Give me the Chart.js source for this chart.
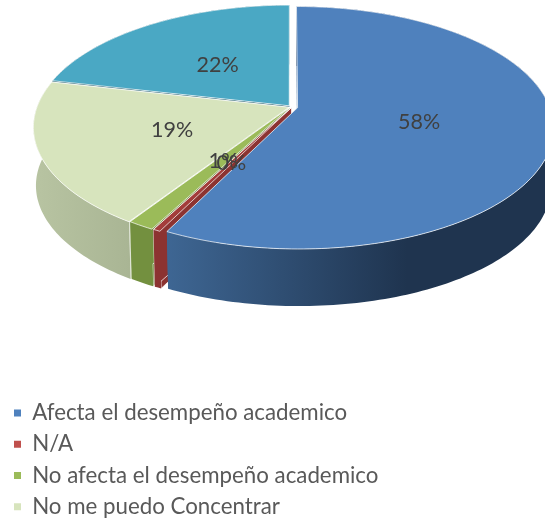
<!DOCTYPE html>
<html><head><meta charset="utf-8">
<script src="https://cdn.jsdelivr.net/npm/chart.js@4"></script>
<style>html,body{margin:0;padding:0;background:#fff}canvas{display:block}</style>
</head><body><canvas id="c" width="545" height="520"></canvas>
<script>
const categories = ['Afecta el desempeño academico','N/A','No afecta el desempeño academico','No me puedo Concentrar',''];
const values = [57.5, 0.4, 1.45, 19.4, 21.5];
const colors = ['#4F81BD','#C0504D','#9BBB59','#D7E4BD','#4BACC6'];
const topColors = ['#4F81BD','#A33C3A','#9BBB59','#D7E4BD','#4AA8C4'];
const wallLeft = ['#3E6693','#8C3331','#73903F','#B8C4A2','#1F5B6C'];
const wallRight = ['#1F344F','#8C3331','#73903F','#A9B594','#1F5B6C'];
const explode = [[0.03,0.006],[0.006,0.004],[0,0.002],[-0.004,0.002],[-0.003,-0.01]];
const paintOrder = [4,3,2,1,0];

const view = {cx:290, cy:107, a:252, b:117.7, k:0.165, depth:58.5, shrink:0.99, labelR:0.485};
function project(th, r, off, level){
  const u = off[0] + r*Math.sin(th), n = off[1] - r*Math.cos(th), w = 1 - view.k*n;
  const f = level ? view.shrink : 1;
  return [view.cx + view.a*f*u/w, view.cy + (level?view.depth:0) + view.b*f*n/w];
}
function arcPts(t0,t1,off,level){
  const out=[], steps=Math.max(2,Math.ceil(Math.abs(t1-t0)/0.02));
  for(let i=0;i<=steps;i++) out.push(project(t0+(t1-t0)*i/steps,1,off,level));
  return out;
}
function poly(ctx,pts){ctx.beginPath();pts.forEach((p,i)=>i?ctx.lineTo(p[0],p[1]):ctx.moveTo(p[0],p[1]));ctx.closePath();}

const pie3d = {
  id:'pie3d',
  beforeDatasetDraw(chart){
    const ctx = chart.ctx, arcs = chart.getDatasetMeta(0).data;
    const angs = arcs.map(a=>[a.startAngle+Math.PI/2, a.endAngle+Math.PI/2]);
    ctx.save();
    ctx.lineJoin='round';
    paintOrder.forEach(i=>{
      const [t0,t1]=angs[i], off=explode[i];
      const top=arcPts(t0,t1,off,0), bot=arcPts(t0,t1,off,1);
      const xs=top.concat(bot).map(p=>p[0]);
      const g=ctx.createLinearGradient(Math.min(...xs),0,Math.min(Math.max(...xs),Math.min(...xs)+240),0);
      g.addColorStop(0,wallLeft[i]);g.addColorStop(1,wallRight[i]);
      const c0=project(0,0,off,0), c1=project(0,0,off,1);
      [[t0,0],[t1,top.length-1]].forEach(([t,idx])=>{
        poly(ctx,[c0,top[idx],bot[idx],c1]);
        ctx.fillStyle=wallLeft[i];ctx.fill();
        ctx.strokeStyle='rgba(255,255,255,0.75)';ctx.lineWidth=1;
        if(i===1||i===2||i===3)ctx.stroke();
      });
      poly(ctx,top.concat(bot.slice().reverse()));
      ctx.fillStyle=g;ctx.fill();
    });
    paintOrder.forEach(i=>{
      const [t0,t1]=angs[i], off=explode[i];
      const pts=[project(0,0,off,0)].concat(arcPts(t0,t1,off,0));
      poly(ctx,pts);
      ctx.fillStyle=topColors[i];ctx.fill();
      ctx.strokeStyle='rgba(255,255,255,0.7)';ctx.lineWidth=1;ctx.stroke();
    });
    ctx.font='21.5px Lato';ctx.fillStyle='#404040';ctx.textAlign='center';ctx.textBaseline='middle';
    arcs.forEach((a,i)=>{
      const p=project((angs[i][0]+angs[i][1])/2,view.labelR,explode[i],0);
      ctx.fillText(Math.round(values[i])+'%',p[0],p[1]+1);
    });
    ctx.restore();
    return false;
  }
};

new Chart(document.getElementById('c'),{
  type:'pie',
  data:{labels:categories,datasets:[{data:values,backgroundColor:colors,borderWidth:0}]},
  plugins:[pie3d],
  options:{
    responsive:false,animation:false,
    layout:{padding:{left:5,bottom:-7,top:0,right:0}},
    plugins:{
      tooltip:{enabled:false},
      legend:{position:'left',align:'end',maxWidth:420,
        labels:{boxWidth:7,boxHeight:7,padding:9,color:'#595959',font:{family:'Lato',size:22.3},
          filter:item=>item.text!==''}}
    }
  }
});
</script></body></html>
